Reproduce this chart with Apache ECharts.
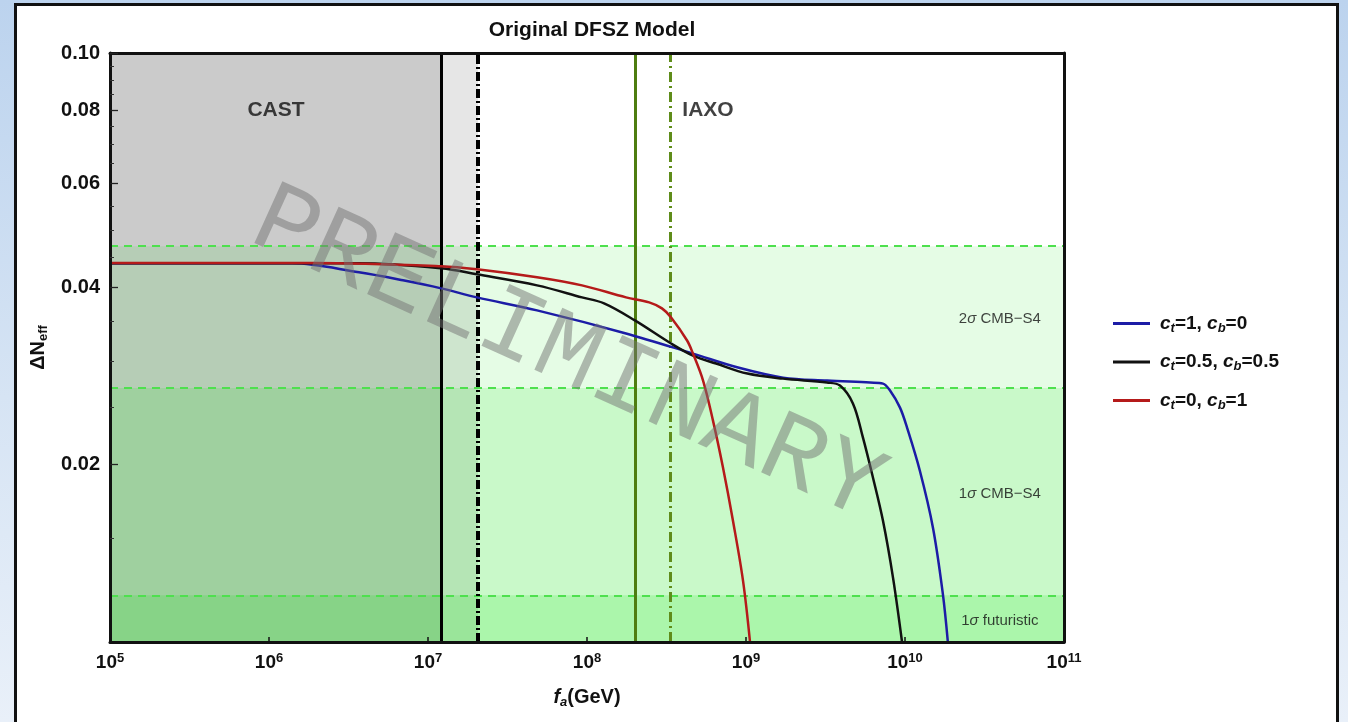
<!DOCTYPE html>
<html>
<head>
<meta charset="utf-8">
<title>Original DFSZ Model</title>
<script src="https://cdn.jsdelivr.net/npm/echarts@6/dist/echarts.min.js"></script>
<style>
  html, body { margin: 0; padding: 0; }
  body {
    width: 1348px; height: 722px; overflow: hidden; position: relative;
    background: linear-gradient(180deg, #bcd3ee 0%, #d6e4f4 55%, #e9f0f9 100%);
  }
  .frame {
    position: absolute; left: 14px; top: 3px; width: 1325px; height: 760px;
    box-sizing: border-box; background: #fff; border: 3px solid #111;
  }
  #main { position: absolute; left: 0; top: 0; width: 1348px; height: 722px; }
</style>
</head>
<body>
<div class="frame"></div>
<div id="main"></div>
<script>
// axis ranges and ticks
var faMin = 1e5, faMax = 1e11;
var dnMin = 0.01, dnMax = 0.1;
var yMajor = [0.02, 0.04, 0.06, 0.08, 0.10];
var yMinor = [0.015, 0.025, 0.03, 0.035, 0.045, 0.05, 0.055, 0.065, 0.07, 0.075, 0.085, 0.09, 0.095];

// curves (f_a in GeV, Delta N_eff)
var seriesNames = ['c_t=1, c_b=0', 'c_t=0.5, c_b=0.5', 'c_t=0, c_b=1'];
var blueFa = [1e5, 1.40e6, 3.68e6, 6.96e6, 1.21e7, 2.03e7, 4.85e7, 1.76e8, 4.64e8, 8.91e8, 1.71e9, 3.23e9, 6.03e9, 7.27e9, 8.05e9, 9.30e9, 1.03e10, 1.24e10, 1.50e10, 1.73e10, 1.86e10];
var blueDn = [0.04395, 0.04395, 0.04243, 0.04112, 0.03985, 0.03847, 0.03656, 0.03341, 0.03088, 0.02924, 0.02811, 0.02779, 0.02757, 0.02746, 0.02672, 0.02500, 0.02312, 0.01953, 0.01562, 0.01207, 0.0100];
var blackFa = [1e5, 3.68e6, 1.21e7, 2.03e7, 4.85e7, 9.30e7, 1.28e8, 2.00e8, 3.38e8, 4.64e8, 6.48e8, 1.02e9, 1.71e9, 3.23e9, 3.90e9, 4.71e9, 5.44e9, 6.29e9, 7.27e9, 8.41e9, 9.58e9];
var blackDn = [0.04395, 0.04395, 0.04310, 0.04210, 0.04032, 0.03847, 0.03758, 0.03516, 0.03212, 0.03064, 0.02970, 0.02856, 0.02800, 0.02757, 0.02725, 0.02539, 0.02223, 0.01901, 0.01606, 0.01285, 0.0100];
var redFa = [1e5, 1.92e6, 1.21e7, 2.03e7, 4.85e7, 9.30e7, 1.76e8, 2.46e8, 2.96e8, 3.38e8, 4.26e8, 4.64e8, 5.37e8, 6.20e8, 7.17e8, 8.28e8, 9.58e8, 1.06e9];
var redDn = [0.0440, 0.0440, 0.04344, 0.04293, 0.04161, 0.04032, 0.03847, 0.03773, 0.03685, 0.03557, 0.03250, 0.03088, 0.02779, 0.02376, 0.01976, 0.01606, 0.01270, 0.0100];

// excluded / reach regions
var castLimit = 1.21e7, castLimit2 = 2.06e7;
var iaxoLimit = 2.0e8, iaxoLimit2 = 3.33e8;
var bandTops = [0.0470, 0.0270, 0.0120];   // 2sigma CMB-S4, 1sigma CMB-S4, 1sigma futuristic

// annotations
var regionText = ['CAST', 'IAXO'];
var regionFa = [1.107e6, 5.77e8];
var regionDn = [0.0800, 0.0800];
var noteText = ['2σ CMB−S4', '1σ CMB−S4', '1σ futuristic'];
var noteFa = [3.95e10, 3.95e10, 3.95e10];
var noteDn = [0.03542, 0.01785, 0.01086];

var FONT = '"Liberation Sans", Arial, sans-serif';
var lineColors = ['#1c1ca6', '#111111', '#b51a1a'];

function zip(a, b) { return a.map(function (v, i) { return [v, b[i]]; }); }

function legendFmt(name) {
  return '{p|}' + name.split(/(c_[tb])/).filter(Boolean).map(function (p) {
    return p.indexOf('c_') === 0 ? '{i|c}{s|' + p.charAt(2) + '}' : '{n|' + p + '}';
  }).join('');
}
function noteFmt(t) {
  return t.split(/(σ)/).filter(Boolean).map(function (p) {
    return p === 'σ' ? '{g|σ}' : '{r|' + p + '}';
  }).join('');
}

var chart = echarts.init(document.getElementById('main'));

var bandColors = ['rgba(0,230,0,0.10)', 'rgba(0,230,0,0.12)', 'rgba(0,230,0,0.15)'];

function curve(i, fa, dn) {
  return {
    type: 'line', name: seriesNames[i], z: 4, data: zip(fa, dn),
    symbol: 'none', smooth: 0.35,
    lineStyle: { color: lineColors[i], width: 2.5 }, itemStyle: { color: lineColors[i] }
  };
}

var option = {
  backgroundColor: 'transparent',
  animation: false,
  title: {
    text: 'Original DFSZ Model',
    left: 587, top: 15, textAlign: 'center',
    textStyle: { fontFamily: FONT, fontSize: 21, fontWeight: 'bold', color: '#111' }
  },
  grid: { left: 110, right: 284, top: 53, bottom: 80, show: true, backgroundColor: '#fff', borderWidth: 0 },
  legend: {
    data: seriesNames,
    orient: 'vertical',
    left: 1113, top: 314, padding: 0,
    icon: 'rect',
    itemWidth: 37, itemHeight: 3, itemGap: 18,
    formatter: legendFmt,
    textStyle: {
      fontFamily: FONT, color: '#111',
      rich: {
        p: { width: 5 },
        n: { fontSize: 19, fontWeight: 'bold', lineHeight: 22, fontFamily: FONT, color: '#111' },
        i: { fontSize: 19, fontWeight: 'bold', fontStyle: 'italic', lineHeight: 22, fontFamily: FONT, color: '#111' },
        s: { fontSize: 13, fontWeight: 'bold', fontStyle: 'italic', lineHeight: 13, verticalAlign: 'bottom', fontFamily: FONT, color: '#111' }
      }
    }
  },
  xAxis: [{
    type: 'log', logBase: 10, min: faMin, max: faMax,
    position: 'bottom', z: 6,
    axisLine: { show: true, lineStyle: { color: '#111', width: 3 } },
    axisTick: { show: true, inside: true, length: 5, lineStyle: { color: '#111', width: 1.5 } },
    splitLine: { show: false },
    axisLabel: {
      margin: 10,
      formatter: function (v) { return '{b|10}{s|' + Math.round(Math.log10(v)) + '}'; },
      rich: {
        b: { fontFamily: FONT, fontSize: 19, fontWeight: 'bold', color: '#111', lineHeight: 22 },
        s: { fontFamily: FONT, fontSize: 13, fontWeight: 'bold', color: '#111', lineHeight: 13, verticalAlign: 'top' }
      }
    },
    name: '{i|f}{s|a}{n|(GeV)}',
    nameLocation: 'middle', nameGap: 43,
    nameTextStyle: {
      rich: {
        i: { fontFamily: FONT, fontSize: 20, fontWeight: 'bold', fontStyle: 'italic', color: '#111', lineHeight: 24 },
        s: { fontFamily: FONT, fontSize: 13, fontWeight: 'bold', fontStyle: 'italic', color: '#111', lineHeight: 13, verticalAlign: 'bottom' },
        n: { fontFamily: FONT, fontSize: 20, fontWeight: 'bold', color: '#111', lineHeight: 24 }
      }
    }
  }, {
    type: 'log', logBase: 10, min: faMin, max: faMax,
    position: 'top', z: 6,
    axisLine: { show: true, lineStyle: { color: '#111', width: 3 } },
    axisTick: { show: false }, axisLabel: { show: false }, splitLine: { show: false }
  }],
  yAxis: [{
    type: 'log', logBase: 10, min: dnMin, max: dnMax,
    position: 'left', z: 6,
    axisLine: { show: true, lineStyle: { color: '#111', width: 3 } },
    axisTick: { show: true, inside: true, length: 8, customValues: yMajor, lineStyle: { color: '#222', width: 1.3 } },
    splitLine: { show: false },
    axisLabel: {
      customValues: yMajor, margin: 10,
      formatter: function (v) { return Number(v).toFixed(2); },
      fontFamily: FONT, fontSize: 20, fontWeight: 'bold', color: '#111'
    },
    name: '{d|ΔN}{s|eff}',
    nameLocation: 'middle', nameGap: 56, nameRotate: 90,
    nameTextStyle: {
      rich: {
        d: { fontFamily: FONT, fontSize: 20, fontWeight: 'bold', color: '#111', lineHeight: 24 },
        s: { fontFamily: FONT, fontSize: 13, fontWeight: 'bold', color: '#111', lineHeight: 13, verticalAlign: 'bottom' }
      }
    }
  }, {
    type: 'log', logBase: 10, min: dnMin, max: dnMax,
    position: 'left', z: 6,
    axisLine: { show: false },
    axisTick: { show: true, inside: true, length: 4, customValues: yMinor, lineStyle: { color: '#333', width: 1 } },
    axisLabel: { show: false }, splitLine: { show: false }
  }, {
    type: 'log', logBase: 10, min: dnMin, max: dnMax,
    position: 'right', z: 6,
    axisLine: { show: true, lineStyle: { color: '#111', width: 3 } },
    axisTick: { show: false }, axisLabel: { show: false }, splitLine: { show: false }
  }],
  graphic: [{
    type: 'text', z: 20, silent: true,
    x: 568, y: 355, rotation: -0.425,
    style: {
      text: 'PRELIMINARY',
      fontFamily: '"Liberation Mono", "DejaVu Sans Mono", monospace', fontSize: 103,
      fill: 'rgba(116,116,116,0.5)',
      align: 'center', verticalAlign: 'middle'
    }
  }],
  series: [
    {
      type: 'line', name: 'cast', data: [], silent: true,
      markArea: {
        z: 1, silent: true,
        data: [
          [{ xAxis: faMin, itemStyle: { color: '#cbcbcb' } }, { xAxis: castLimit }],
          [{ xAxis: castLimit, itemStyle: { color: '#e6e6e6' } }, { xAxis: castLimit2 }]
        ]
      }
    },
    {
      type: 'line', name: 'bands', data: [], silent: true,
      markArea: {
        z: 2, silent: true,
        data: bandTops.map(function (t, i) {
          return [{ yAxis: dnMin, itemStyle: { color: bandColors[i] } }, { yAxis: t }];
        })
      },
      markLine: {
        z: 3, silent: true, precision: 5, symbol: ['none', 'none'], label: { show: false },
        lineStyle: { color: '#4ee04e', width: 2, type: [8, 6] },
        data: bandTops.map(function (t) { return { yAxis: t }; })
      }
    },
    {
      type: 'line', name: 'limits', data: [], silent: true,
      markLine: {
        z: 3, silent: true, precision: 5, symbol: ['none', 'none'], label: { show: false },
        data: [
          { xAxis: castLimit, lineStyle: { color: '#000', width: 3, type: 'solid' } },
          { xAxis: castLimit2, lineStyle: { color: '#000', width: 4, type: [9, 3, 2, 3] } },
          { xAxis: iaxoLimit, lineStyle: { color: '#4e7d10', width: 3, type: 'solid' } },
          { xAxis: iaxoLimit2, lineStyle: { color: '#5f8c1a', width: 3, type: [10, 4, 2, 4] } }
        ]
      }
    },
    curve(0, blueFa, blueDn),
    curve(1, blackFa, blackDn),
    curve(2, redFa, redDn),
    {
      type: 'scatter', name: 'regions', z: 5, silent: true,
      symbol: 'circle', symbolSize: 1, itemStyle: { color: 'transparent' },
      data: regionText.map(function (t, i) { return { name: t, value: [regionFa[i], regionDn[i]] }; }),
      label: {
        show: true, position: 'inside', formatter: '{b}',
        fontFamily: FONT, fontSize: 21, fontWeight: 'bold', color: '#111'
      }
    },
    {
      type: 'scatter', name: 'notes', z: 5, silent: true,
      symbol: 'circle', symbolSize: 1, itemStyle: { color: 'transparent' },
      data: noteText.map(function (t, i) { return { name: t, value: [noteFa[i], noteDn[i]] }; }),
      label: {
        show: true, position: 'inside',
        formatter: function (p) { return noteFmt(p.name); },
        rich: {
          r: { fontFamily: FONT, fontSize: 15, color: '#111' },
          g: { fontFamily: FONT, fontSize: 15, fontStyle: 'italic', color: '#111' }
        }
      }
    }
  ]
};

chart.setOption(option);
</script>
</body>
</html>
